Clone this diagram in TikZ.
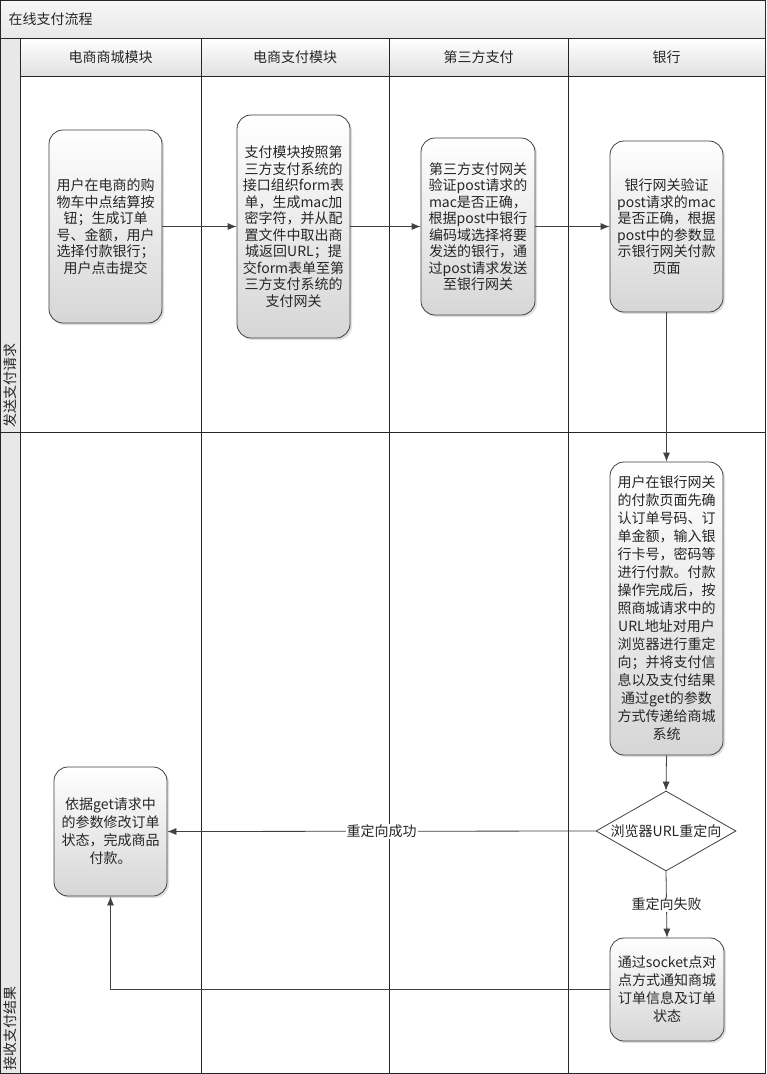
\documentclass[tikz,border=0pt]{standalone}
\usepackage{fontspec}
\setmainfont{Noto Sans CJK SC}
\usetikzlibrary{arrows.meta,shadows,shapes.geometric}
\definecolor{linec}{HTML}{404040}
\definecolor{txtc}{HTML}{262626}
\begin{document}
\begin{tikzpicture}[x=1pt,y=-1pt,
  proc/.style={draw=linec, line width=0.8pt, rounded corners=14pt, top color=white, bottom color=black!16,
    drop shadow={opacity=0.25,shadow xshift=2pt,shadow yshift=-2pt},
    align=center, inner sep=0pt, text=txtc, font=\fontsize{14}{16.5}\selectfont},
  procb/.style={proc, font=\fontsize{14}{18}\selectfont},
  flow/.style={draw=linec, line width=0.8pt, -{Latex[length=9pt,width=7pt]}},
  lbl/.style={fill=white, inner sep=1pt, text=txtc, font=\fontsize{14}{16}\selectfont},
  hdr/.style={text=txtc, font=\fontsize{14}{16}\selectfont},
  lane/.style={draw=black!85, line width=0.8pt}]
% background and frame
\useasboundingbox (0,0) rectangle (766,1074);
\fill[white] (0,0) rectangle (766,1074);
\shade[top color=black!3, bottom color=black!9] (0,0) rectangle (765,38);
\fill[black!9] (0,38) rectangle (20,1073);
\shade[top color=white, bottom color=black!12] (20,38) rectangle (765,76);
\draw[lane] (0.5,0.5) rectangle (765.5,1073.5);
\draw[lane] (0,38) -- (766,38);
\draw[lane] (20,76) -- (766,76);
\draw[lane] (0,432) -- (766,432);
\foreach \xx in {20,201,389,568} \draw[lane] (\xx,38) -- (\xx,1074);
% title and headers
\node[hdr, anchor=west] (title) at (5,19) {在线支付流程};
\node[hdr] (h1) at (110.5,57) {电商商城模块};
\node[hdr] (h2) at (295,57) {电商支付模块};
\node[hdr] (h3) at (478.5,57) {第三方支付};
\node[hdr] (h4) at (666.5,57) {银行};
\node[hdr, rotate=90] (l1) at (10,385) {发送支付请求};
\node[hdr, rotate=90] (l2) at (10,1028) {接收支付结果};
% process boxes
\node[proc, minimum width=113pt, minimum height=193pt] (A) at (105.5,226.5)
  {用户在电商的购\\物车中点结算按\\钮；生成订单\\号、金额，用户\\选择付款银行；\\用户点击提交};
\node[proc, minimum width=113pt, minimum height=223pt] (B) at (293.5,226.5)
  {支付模块按照第\\三方支付系统的\\接口组织form表\\单，生成mac加\\密字符，并从配\\置文件中取出商\\城返回URL；提\\交form表单至第\\三方支付系统的\\支付网关};
\node[proc, minimum width=114pt, minimum height=177pt] (C) at (478,226.5)
  {第三方支付网关\\验证post请求的\\mac是否正确，\\根据post中银行\\编码域选择将要\\发送的银行，通\\过post请求发送\\至银行网关};
\node[proc, minimum width=113pt, minimum height=171pt] (D) at (666.5,226.5)
  {银行网关验证\\post请求的mac\\是否正确，根据\\post中的参数显\\示银行网关付款\\页面};
\node[procb, minimum width=113pt, minimum height=293pt] (E) at (666.5,608.5)
  {用户在银行网关\\的付款页面先确\\认订单号码、订\\单金额，输入银\\行卡号，密码等\\进行付款。付款\\操作完成后，按\\照商城请求中的\\URL地址对用户\\浏览器进行重定\\向；并将支付信\\息以及支付结果\\通过get的参数\\方式传递给商城\\系统};
\node[draw=linec, line width=0.8pt, diamond, fill=white, minimum width=140pt, minimum height=80pt, inner sep=0pt] (dm) at (666,831) {};
\node[hdr] (dmt) at (dm.center) {浏览器URL重定向};
\node[procb, minimum width=114pt, minimum height=103pt] (F) at (667,989.5)
  {通过socket点对\\点方式通知商城\\订单信息及订单\\状态};
\node[procb, minimum width=113pt, minimum height=129pt] (G) at (110.5,831.5)
  {依据get请求中\\的参数修改订单\\状态，完成商品\\付款。};
% connectors
\draw[flow] (A.east) -- (B.west);
\draw[flow] (B.east) -- (C.west);
\draw[flow] (C.east) -- (D.west);
\draw[flow] (D.south) -- (E.north);
\draw[flow] (E.south) -- (dm.north);
\draw[flow] (dm.west) -- node[lbl] {重定向成功} (G.east);
\draw[flow] (dm.south) -- node[lbl] {重定向失败} (F.north);
\draw[flow] (F.west) -| (G.south);
\end{tikzpicture}
\end{document}
